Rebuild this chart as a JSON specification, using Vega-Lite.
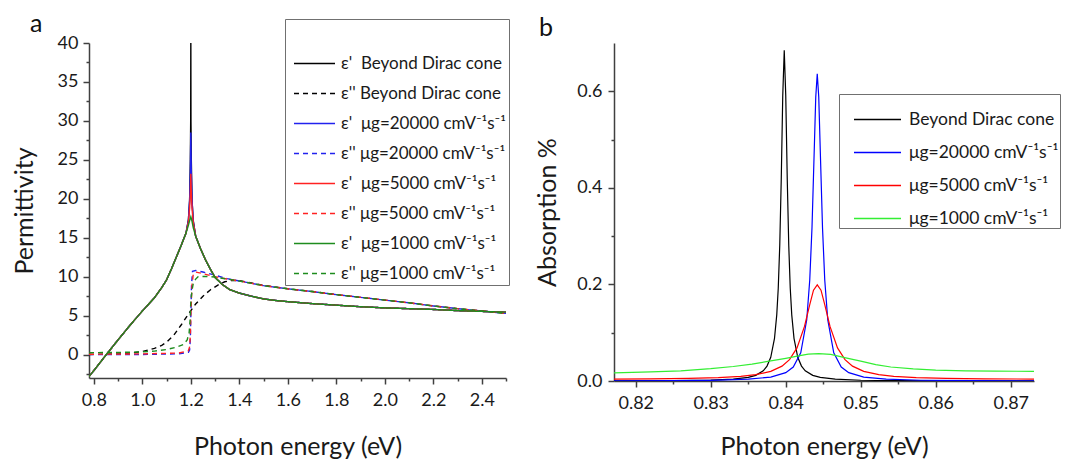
{
  "$schema": "https://vega.github.io/schema/vega-lite/v6.json",
  "background": "white",
  "padding": {"left": 12, "top": 11, "right": 5, "bottom": 5},
  "config": {
    "view": {"stroke": null},
    "font": "Lato",
    "axis": {"domainColor": "#404040", "domainWidth": 1.5, "tickColor": "#404040", "tickWidth": 1.5, "labelFont": "Lato", "labelFontSize": 18, "labelColor": "#1a1a1a", "titleFont": "Lato", "titleFontSize": 25, "titleFontWeight": "normal", "titleColor": "#1a1a1a", "grid": false, "tickSize": 6, "labelPadding": 6},
    "legend": {"labelFont": "Lato", "labelColor": "#1a1a1a", "labelLimit": 400}
  },
  "datasets": {
    "permLabels": [
      {"k": "b1", "curve": "ε'\u00a0\u00a0Beyond Dirac cone"},
      {"k": "b2", "curve": "ε''\u00a0Beyond Dirac cone"},
      {"k": "u1", "curve": "ε'\u00a0\u00a0μg=20000 cmV⁻¹s⁻¹"},
      {"k": "u2", "curve": "ε''\u00a0μg=20000 cmV⁻¹s⁻¹"},
      {"k": "r1", "curve": "ε'\u00a0\u00a0μg=5000 cmV⁻¹s⁻¹"},
      {"k": "r2", "curve": "ε''\u00a0μg=5000 cmV⁻¹s⁻¹"},
      {"k": "g1", "curve": "ε'\u00a0\u00a0μg=1000 cmV⁻¹s⁻¹"},
      {"k": "g2", "curve": "ε''\u00a0μg=1000 cmV⁻¹s⁻¹"}
    ],
    "perm": [
      {"k":"b1","energy":0.78,"value":-2.8},{"k":"b1","energy":0.80,"value":-2.05},{"k":"b1","energy":0.85,"value":-0.05},{"k":"b1","energy":0.90,"value":1.9},{"k":"b1","energy":0.95,"value":3.8},{"k":"b1","energy":1.00,"value":5.6},{"k":"b1","energy":1.05,"value":7.3},{"k":"b1","energy":1.08,"value":8.6},{"k":"b1","energy":1.10,"value":9.6},{"k":"b1","energy":1.12,"value":11.0},{"k":"b1","energy":1.14,"value":12.5},{"k":"b1","energy":1.16,"value":14.0},{"k":"b1","energy":1.18,"value":15.6},{"k":"b1","energy":1.19,"value":17.3},{"k":"b1","energy":1.195,"value":19.8},{"k":"b1","energy":1.198,"value":25},{"k":"b1","energy":1.1995,"value":30},{"k":"b1","energy":1.2,"value":40},{"k":"b1","energy":1.2005,"value":30},{"k":"b1","energy":1.202,"value":25},{"k":"b1","energy":1.205,"value":19.8},{"k":"b1","energy":1.21,"value":17.2},{"k":"b1","energy":1.22,"value":15.2},{"k":"b1","energy":1.24,"value":13.6},{"k":"b1","energy":1.26,"value":12.2},{"k":"b1","energy":1.28,"value":11.0},{"k":"b1","energy":1.30,"value":9.9},{"k":"b1","energy":1.33,"value":9.0},{"k":"b1","energy":1.36,"value":8.35},{"k":"b1","energy":1.40,"value":7.9},{"k":"b1","energy":1.45,"value":7.5},{"k":"b1","energy":1.50,"value":7.15},{"k":"b1","energy":1.55,"value":6.95},{"k":"b1","energy":1.60,"value":6.8},{"k":"b1","energy":1.70,"value":6.55},{"k":"b1","energy":1.80,"value":6.35},{"k":"b1","energy":1.90,"value":6.15},{"k":"b1","energy":2.00,"value":6.0},{"k":"b1","energy":2.10,"value":5.9},{"k":"b1","energy":2.20,"value":5.8},{"k":"b1","energy":2.30,"value":5.65},{"k":"b1","energy":2.40,"value":5.55},{"k":"b1","energy":2.50,"value":5.45},
      {"k":"b2","energy":0.78,"value":0.02},{"k":"b2","energy":0.85,"value":0.05},{"k":"b2","energy":0.90,"value":0.1},{"k":"b2","energy":0.95,"value":0.2},{"k":"b2","energy":1.00,"value":0.4},{"k":"b2","energy":1.05,"value":0.8},{"k":"b2","energy":1.08,"value":1.2},{"k":"b2","energy":1.10,"value":1.6},{"k":"b2","energy":1.13,"value":2.5},{"k":"b2","energy":1.16,"value":3.8},{"k":"b2","energy":1.19,"value":5.2},{"k":"b2","energy":1.22,"value":6.5},{"k":"b2","energy":1.25,"value":7.5},{"k":"b2","energy":1.28,"value":8.3},{"k":"b2","energy":1.31,"value":8.9},{"k":"b2","energy":1.34,"value":9.35},{"k":"b2","energy":1.37,"value":9.55},{"k":"b2","energy":1.40,"value":9.5},{"k":"b2","energy":1.45,"value":9.2},{"k":"b2","energy":1.50,"value":8.9},{"k":"b2","energy":1.60,"value":8.45},{"k":"b2","energy":1.70,"value":8.1},{"k":"b2","energy":1.80,"value":7.7},{"k":"b2","energy":1.90,"value":7.35},{"k":"b2","energy":2.00,"value":7.0},{"k":"b2","energy":2.10,"value":6.65},{"k":"b2","energy":2.20,"value":6.25},{"k":"b2","energy":2.30,"value":5.9},{"k":"b2","energy":2.40,"value":5.6},{"k":"b2","energy":2.50,"value":5.3},
      {"k":"u1","energy":0.78,"value":-2.8},{"k":"u1","energy":0.80,"value":-2.05},{"k":"u1","energy":0.85,"value":-0.05},{"k":"u1","energy":0.90,"value":1.9},{"k":"u1","energy":0.95,"value":3.8},{"k":"u1","energy":1.00,"value":5.6},{"k":"u1","energy":1.05,"value":7.3},{"k":"u1","energy":1.08,"value":8.6},{"k":"u1","energy":1.10,"value":9.6},{"k":"u1","energy":1.12,"value":11.0},{"k":"u1","energy":1.14,"value":12.5},{"k":"u1","energy":1.16,"value":14.0},{"k":"u1","energy":1.18,"value":15.6},{"k":"u1","energy":1.19,"value":17.2},{"k":"u1","energy":1.195,"value":19.8},{"k":"u1","energy":1.198,"value":23.5},{"k":"u1","energy":1.2,"value":28.5},{"k":"u1","energy":1.202,"value":23.5},{"k":"u1","energy":1.205,"value":19.8},{"k":"u1","energy":1.21,"value":17.1},{"k":"u1","energy":1.22,"value":15.2},{"k":"u1","energy":1.24,"value":13.6},{"k":"u1","energy":1.26,"value":12.2},{"k":"u1","energy":1.28,"value":11.0},{"k":"u1","energy":1.30,"value":9.9},{"k":"u1","energy":1.33,"value":9.0},{"k":"u1","energy":1.36,"value":8.35},{"k":"u1","energy":1.40,"value":7.9},{"k":"u1","energy":1.45,"value":7.5},{"k":"u1","energy":1.50,"value":7.15},{"k":"u1","energy":1.55,"value":6.95},{"k":"u1","energy":1.60,"value":6.8},{"k":"u1","energy":1.70,"value":6.55},{"k":"u1","energy":1.80,"value":6.35},{"k":"u1","energy":1.90,"value":6.15},{"k":"u1","energy":2.00,"value":6.0},{"k":"u1","energy":2.10,"value":5.9},{"k":"u1","energy":2.20,"value":5.8},{"k":"u1","energy":2.30,"value":5.65},{"k":"u1","energy":2.40,"value":5.55},{"k":"u1","energy":2.50,"value":5.45},
      {"k":"u2","energy":0.78,"value":0.0},{"k":"u2","energy":1.00,"value":0.02},{"k":"u2","energy":1.15,"value":0.1},{"k":"u2","energy":1.19,"value":0.3},{"k":"u2","energy":1.195,"value":0.6},{"k":"u2","energy":1.198,"value":2.0},{"k":"u2","energy":1.2,"value":5.0},{"k":"u2","energy":1.203,"value":9.0},{"k":"u2","energy":1.207,"value":10.7},{"k":"u2","energy":1.22,"value":10.8},{"k":"u2","energy":1.25,"value":10.6},{"k":"u2","energy":1.30,"value":10.2},{"k":"u2","energy":1.35,"value":9.75},{"k":"u2","energy":1.40,"value":9.45},{"k":"u2","energy":1.45,"value":9.15},{"k":"u2","energy":1.50,"value":8.85},{"k":"u2","energy":1.60,"value":8.45},{"k":"u2","energy":1.70,"value":8.1},{"k":"u2","energy":1.80,"value":7.7},{"k":"u2","energy":1.90,"value":7.35},{"k":"u2","energy":2.00,"value":7.0},{"k":"u2","energy":2.10,"value":6.65},{"k":"u2","energy":2.20,"value":6.25},{"k":"u2","energy":2.30,"value":5.9},{"k":"u2","energy":2.40,"value":5.6},{"k":"u2","energy":2.50,"value":5.3},
      {"k":"r1","energy":0.78,"value":-2.8},{"k":"r1","energy":0.80,"value":-2.05},{"k":"r1","energy":0.85,"value":-0.05},{"k":"r1","energy":0.90,"value":1.9},{"k":"r1","energy":0.95,"value":3.8},{"k":"r1","energy":1.00,"value":5.6},{"k":"r1","energy":1.05,"value":7.3},{"k":"r1","energy":1.08,"value":8.6},{"k":"r1","energy":1.10,"value":9.6},{"k":"r1","energy":1.12,"value":11.0},{"k":"r1","energy":1.14,"value":12.5},{"k":"r1","energy":1.16,"value":14.0},{"k":"r1","energy":1.18,"value":15.6},{"k":"r1","energy":1.19,"value":17.0},{"k":"r1","energy":1.195,"value":18.8},{"k":"r1","energy":1.198,"value":20.8},{"k":"r1","energy":1.2,"value":23.2},{"k":"r1","energy":1.202,"value":20.8},{"k":"r1","energy":1.205,"value":18.8},{"k":"r1","energy":1.21,"value":16.9},{"k":"r1","energy":1.22,"value":15.2},{"k":"r1","energy":1.24,"value":13.6},{"k":"r1","energy":1.26,"value":12.2},{"k":"r1","energy":1.28,"value":11.0},{"k":"r1","energy":1.30,"value":9.9},{"k":"r1","energy":1.33,"value":9.0},{"k":"r1","energy":1.36,"value":8.35},{"k":"r1","energy":1.40,"value":7.9},{"k":"r1","energy":1.45,"value":7.5},{"k":"r1","energy":1.50,"value":7.15},{"k":"r1","energy":1.55,"value":6.95},{"k":"r1","energy":1.60,"value":6.8},{"k":"r1","energy":1.70,"value":6.55},{"k":"r1","energy":1.80,"value":6.35},{"k":"r1","energy":1.90,"value":6.15},{"k":"r1","energy":2.00,"value":6.0},{"k":"r1","energy":2.10,"value":5.9},{"k":"r1","energy":2.20,"value":5.8},{"k":"r1","energy":2.30,"value":5.65},{"k":"r1","energy":2.40,"value":5.55},{"k":"r1","energy":2.50,"value":5.45},
      {"k":"r2","energy":0.78,"value":0.05},{"k":"r2","energy":1.00,"value":0.1},{"k":"r2","energy":1.15,"value":0.2},{"k":"r2","energy":1.19,"value":0.5},{"k":"r2","energy":1.195,"value":1.0},{"k":"r2","energy":1.198,"value":2.5},{"k":"r2","energy":1.2,"value":5.0},{"k":"r2","energy":1.205,"value":9.0},{"k":"r2","energy":1.21,"value":10.3},{"k":"r2","energy":1.22,"value":10.6},{"k":"r2","energy":1.25,"value":10.4},{"k":"r2","energy":1.30,"value":10.0},{"k":"r2","energy":1.35,"value":9.7},{"k":"r2","energy":1.40,"value":9.45},{"k":"r2","energy":1.45,"value":9.15},{"k":"r2","energy":1.50,"value":8.85},{"k":"r2","energy":1.60,"value":8.45},{"k":"r2","energy":1.70,"value":8.1},{"k":"r2","energy":1.80,"value":7.7},{"k":"r2","energy":1.90,"value":7.35},{"k":"r2","energy":2.00,"value":7.0},{"k":"r2","energy":2.10,"value":6.65},{"k":"r2","energy":2.20,"value":6.25},{"k":"r2","energy":2.30,"value":5.9},{"k":"r2","energy":2.40,"value":5.6},{"k":"r2","energy":2.50,"value":5.3},
      {"k":"g1","energy":0.78,"value":-2.8},{"k":"g1","energy":0.80,"value":-2.05},{"k":"g1","energy":0.85,"value":-0.05},{"k":"g1","energy":0.90,"value":1.9},{"k":"g1","energy":0.95,"value":3.8},{"k":"g1","energy":1.00,"value":5.6},{"k":"g1","energy":1.05,"value":7.3},{"k":"g1","energy":1.08,"value":8.6},{"k":"g1","energy":1.10,"value":9.6},{"k":"g1","energy":1.12,"value":11.0},{"k":"g1","energy":1.14,"value":12.5},{"k":"g1","energy":1.16,"value":14.0},{"k":"g1","energy":1.18,"value":15.6},{"k":"g1","energy":1.19,"value":16.6},{"k":"g1","energy":1.195,"value":17.2},{"k":"g1","energy":1.2,"value":17.7},{"k":"g1","energy":1.205,"value":17.1},{"k":"g1","energy":1.21,"value":16.3},{"k":"g1","energy":1.22,"value":15.2},{"k":"g1","energy":1.24,"value":13.6},{"k":"g1","energy":1.26,"value":12.2},{"k":"g1","energy":1.28,"value":11.0},{"k":"g1","energy":1.30,"value":9.9},{"k":"g1","energy":1.33,"value":9.0},{"k":"g1","energy":1.36,"value":8.35},{"k":"g1","energy":1.40,"value":7.9},{"k":"g1","energy":1.45,"value":7.5},{"k":"g1","energy":1.50,"value":7.15},{"k":"g1","energy":1.55,"value":6.95},{"k":"g1","energy":1.60,"value":6.8},{"k":"g1","energy":1.70,"value":6.55},{"k":"g1","energy":1.80,"value":6.35},{"k":"g1","energy":1.90,"value":6.15},{"k":"g1","energy":2.00,"value":6.0},{"k":"g1","energy":2.10,"value":5.9},{"k":"g1","energy":2.20,"value":5.8},{"k":"g1","energy":2.30,"value":5.65},{"k":"g1","energy":2.40,"value":5.55},{"k":"g1","energy":2.50,"value":5.45},
      {"k":"g2","energy":0.78,"value":0.25},{"k":"g2","energy":0.90,"value":0.28},{"k":"g2","energy":1.00,"value":0.35},{"k":"g2","energy":1.05,"value":0.45},{"k":"g2","energy":1.10,"value":0.65},{"k":"g2","energy":1.14,"value":0.95},{"k":"g2","energy":1.17,"value":1.3},{"k":"g2","energy":1.185,"value":1.9},{"k":"g2","energy":1.193,"value":2.8},{"k":"g2","energy":1.197,"value":4.5},{"k":"g2","energy":1.2,"value":6.8},{"k":"g2","energy":1.205,"value":8.3},{"k":"g2","energy":1.21,"value":9.1},{"k":"g2","energy":1.22,"value":9.7},{"k":"g2","energy":1.23,"value":10.0},{"k":"g2","energy":1.26,"value":10.05},{"k":"g2","energy":1.30,"value":9.95},{"k":"g2","energy":1.35,"value":9.7},{"k":"g2","energy":1.40,"value":9.45},{"k":"g2","energy":1.45,"value":9.15},{"k":"g2","energy":1.50,"value":8.85},{"k":"g2","energy":1.60,"value":8.45},{"k":"g2","energy":1.70,"value":8.1},{"k":"g2","energy":1.80,"value":7.7},{"k":"g2","energy":1.90,"value":7.35},{"k":"g2","energy":2.00,"value":7.0},{"k":"g2","energy":2.10,"value":6.65},{"k":"g2","energy":2.20,"value":6.25},{"k":"g2","energy":2.30,"value":5.9},{"k":"g2","energy":2.40,"value":5.6},{"k":"g2","energy":2.50,"value":5.3}
    ],
    "absorb": [
      {"curve":"Beyond Dirac cone","energy":0.8171,"value":0.0003},{"curve":"Beyond Dirac cone","energy":0.825,"value":0.0008},{"curve":"Beyond Dirac cone","energy":0.830,"value":0.0018},{"curve":"Beyond Dirac cone","energy":0.833,"value":0.0037},{"curve":"Beyond Dirac cone","energy":0.835,"value":0.0074},{"curve":"Beyond Dirac cone","energy":0.836,"value":0.0117},{"curve":"Beyond Dirac cone","energy":0.837,"value":0.0212},{"curve":"Beyond Dirac cone","energy":0.8375,"value":0.0309},{"curve":"Beyond Dirac cone","energy":0.838,"value":0.049},{"curve":"Beyond Dirac cone","energy":0.8385,"value":0.0883},{"curve":"Beyond Dirac cone","energy":0.8388,"value":0.137},{"curve":"Beyond Dirac cone","energy":0.839,"value":0.192},{"curve":"Beyond Dirac cone","energy":0.8392,"value":0.281},{"curve":"Beyond Dirac cone","energy":0.8394,"value":0.418},{"curve":"Beyond Dirac cone","energy":0.8396,"value":0.591},{"curve":"Beyond Dirac cone","energy":0.8398,"value":0.685},{"curve":"Beyond Dirac cone","energy":0.84,"value":0.591},{"curve":"Beyond Dirac cone","energy":0.8402,"value":0.418},{"curve":"Beyond Dirac cone","energy":0.8404,"value":0.281},{"curve":"Beyond Dirac cone","energy":0.8406,"value":0.192},{"curve":"Beyond Dirac cone","energy":0.8408,"value":0.137},{"curve":"Beyond Dirac cone","energy":0.8411,"value":0.0883},{"curve":"Beyond Dirac cone","energy":0.8416,"value":0.049},{"curve":"Beyond Dirac cone","energy":0.8421,"value":0.0309},{"curve":"Beyond Dirac cone","energy":0.8426,"value":0.0212},{"curve":"Beyond Dirac cone","energy":0.8436,"value":0.0117},{"curve":"Beyond Dirac cone","energy":0.8446,"value":0.0074},{"curve":"Beyond Dirac cone","energy":0.8466,"value":0.0037},{"curve":"Beyond Dirac cone","energy":0.850,"value":0.0016},{"curve":"Beyond Dirac cone","energy":0.855,"value":0.0007},{"curve":"Beyond Dirac cone","energy":0.860,"value":0.0004},{"curve":"Beyond Dirac cone","energy":0.8731,"value":0.0002},
      {"curve":"μg=20000 cmV⁻¹s⁻¹","energy":0.8171,"value":0.0004},{"curve":"μg=20000 cmV⁻¹s⁻¹","energy":0.825,"value":0.0009},{"curve":"μg=20000 cmV⁻¹s⁻¹","energy":0.830,"value":0.0015},{"curve":"μg=20000 cmV⁻¹s⁻¹","energy":0.835,"value":0.0037},{"curve":"μg=20000 cmV⁻¹s⁻¹","energy":0.838,"value":0.008},{"curve":"μg=20000 cmV⁻¹s⁻¹","energy":0.840,"value":0.0172},{"curve":"μg=20000 cmV⁻¹s⁻¹","energy":0.841,"value":0.029},{"curve":"μg=20000 cmV⁻¹s⁻¹","energy":0.842,"value":0.0585},{"curve":"μg=20000 cmV⁻¹s⁻¹","energy":0.8428,"value":0.127},{"curve":"μg=20000 cmV⁻¹s⁻¹","energy":0.8432,"value":0.209},{"curve":"μg=20000 cmV⁻¹s⁻¹","energy":0.8435,"value":0.318},{"curve":"μg=20000 cmV⁻¹s⁻¹","energy":0.8438,"value":0.479},{"curve":"μg=20000 cmV⁻¹s⁻¹","energy":0.844,"value":0.588},{"curve":"μg=20000 cmV⁻¹s⁻¹","energy":0.8442,"value":0.636},{"curve":"μg=20000 cmV⁻¹s⁻¹","energy":0.8444,"value":0.588},{"curve":"μg=20000 cmV⁻¹s⁻¹","energy":0.8446,"value":0.479},{"curve":"μg=20000 cmV⁻¹s⁻¹","energy":0.8449,"value":0.318},{"curve":"μg=20000 cmV⁻¹s⁻¹","energy":0.8452,"value":0.209},{"curve":"μg=20000 cmV⁻¹s⁻¹","energy":0.8456,"value":0.127},{"curve":"μg=20000 cmV⁻¹s⁻¹","energy":0.8464,"value":0.0585},{"curve":"μg=20000 cmV⁻¹s⁻¹","energy":0.8474,"value":0.029},{"curve":"μg=20000 cmV⁻¹s⁻¹","energy":0.8484,"value":0.0172},{"curve":"μg=20000 cmV⁻¹s⁻¹","energy":0.8504,"value":0.008},{"curve":"μg=20000 cmV⁻¹s⁻¹","energy":0.8534,"value":0.0037},{"curve":"μg=20000 cmV⁻¹s⁻¹","energy":0.858,"value":0.0016},{"curve":"μg=20000 cmV⁻¹s⁻¹","energy":0.865,"value":0.0007},{"curve":"μg=20000 cmV⁻¹s⁻¹","energy":0.8731,"value":0.0004},
      {"curve":"μg=5000 cmV⁻¹s⁻¹","energy":0.8171,"value":0.004},{"curve":"μg=5000 cmV⁻¹s⁻¹","energy":0.822,"value":0.0044},{"curve":"μg=5000 cmV⁻¹s⁻¹","energy":0.827,"value":0.0054},{"curve":"μg=5000 cmV⁻¹s⁻¹","energy":0.831,"value":0.007},{"curve":"μg=5000 cmV⁻¹s⁻¹","energy":0.834,"value":0.0096},{"curve":"μg=5000 cmV⁻¹s⁻¹","energy":0.836,"value":0.0131},{"curve":"μg=5000 cmV⁻¹s⁻¹","energy":0.838,"value":0.020},{"curve":"μg=5000 cmV⁻¹s⁻¹","energy":0.8395,"value":0.0308},{"curve":"μg=5000 cmV⁻¹s⁻¹","energy":0.8405,"value":0.0443},{"curve":"μg=5000 cmV⁻¹s⁻¹","energy":0.8415,"value":0.0685},{"curve":"μg=5000 cmV⁻¹s⁻¹","energy":0.8425,"value":0.113},{"curve":"μg=5000 cmV⁻¹s⁻¹","energy":0.8432,"value":0.158},{"curve":"μg=5000 cmV⁻¹s⁻¹","energy":0.8437,"value":0.188},{"curve":"μg=5000 cmV⁻¹s⁻¹","energy":0.8442,"value":0.199},{"curve":"μg=5000 cmV⁻¹s⁻¹","energy":0.8447,"value":0.188},{"curve":"μg=5000 cmV⁻¹s⁻¹","energy":0.8452,"value":0.158},{"curve":"μg=5000 cmV⁻¹s⁻¹","energy":0.8459,"value":0.113},{"curve":"μg=5000 cmV⁻¹s⁻¹","energy":0.8469,"value":0.0685},{"curve":"μg=5000 cmV⁻¹s⁻¹","energy":0.8479,"value":0.0443},{"curve":"μg=5000 cmV⁻¹s⁻¹","energy":0.8489,"value":0.0308},{"curve":"μg=5000 cmV⁻¹s⁻¹","energy":0.8504,"value":0.020},{"curve":"μg=5000 cmV⁻¹s⁻¹","energy":0.8524,"value":0.0131},{"curve":"μg=5000 cmV⁻¹s⁻¹","energy":0.8544,"value":0.0096},{"curve":"μg=5000 cmV⁻¹s⁻¹","energy":0.8574,"value":0.007},{"curve":"μg=5000 cmV⁻¹s⁻¹","energy":0.8614,"value":0.0054},{"curve":"μg=5000 cmV⁻¹s⁻¹","energy":0.8664,"value":0.0044},{"curve":"μg=5000 cmV⁻¹s⁻¹","energy":0.8731,"value":0.004},
      {"curve":"μg=1000 cmV⁻¹s⁻¹","energy":0.8171,"value":0.017},{"curve":"μg=1000 cmV⁻¹s⁻¹","energy":0.822,"value":0.019},{"curve":"μg=1000 cmV⁻¹s⁻¹","energy":0.826,"value":0.021},{"curve":"μg=1000 cmV⁻¹s⁻¹","energy":0.830,"value":0.0255},{"curve":"μg=1000 cmV⁻¹s⁻¹","energy":0.833,"value":0.030},{"curve":"μg=1000 cmV⁻¹s⁻¹","energy":0.8355,"value":0.035},{"curve":"μg=1000 cmV⁻¹s⁻¹","energy":0.838,"value":0.0415},{"curve":"μg=1000 cmV⁻¹s⁻¹","energy":0.840,"value":0.047},{"curve":"μg=1000 cmV⁻¹s⁻¹","energy":0.8417,"value":0.052},{"curve":"μg=1000 cmV⁻¹s⁻¹","energy":0.843,"value":0.0555},{"curve":"μg=1000 cmV⁻¹s⁻¹","energy":0.8444,"value":0.0565},{"curve":"μg=1000 cmV⁻¹s⁻¹","energy":0.846,"value":0.055},{"curve":"μg=1000 cmV⁻¹s⁻¹","energy":0.848,"value":0.048},{"curve":"μg=1000 cmV⁻¹s⁻¹","energy":0.850,"value":0.041},{"curve":"μg=1000 cmV⁻¹s⁻¹","energy":0.852,"value":0.034},{"curve":"μg=1000 cmV⁻¹s⁻¹","energy":0.854,"value":0.029},{"curve":"μg=1000 cmV⁻¹s⁻¹","energy":0.857,"value":0.025},{"curve":"μg=1000 cmV⁻¹s⁻¹","energy":0.860,"value":0.0225},{"curve":"μg=1000 cmV⁻¹s⁻¹","energy":0.864,"value":0.021},{"curve":"μg=1000 cmV⁻¹s⁻¹","energy":0.868,"value":0.0205},{"curve":"μg=1000 cmV⁻¹s⁻¹","energy":0.8731,"value":0.020}
    ]
  },
  "spacing": 108,
  "bounds": "flush",
  "resolve": {"scale": {"color": "independent", "strokeDash": "independent"}, "legend": {"color": "independent", "strokeDash": "independent"}},
  "hconcat": [
    {
      "width": 417,
      "height": 335,
      "title": {"text": "a", "anchor": "start", "frame": "group", "fontSize": 25, "fontWeight": "normal", "font": "Lato", "color": "#111111", "dx": -59, "offset": -38, "baseline": "alphabetic"},
      "data": {"name": "perm"},
      "transform": [{"lookup": "k", "from": {"data": {"name": "permLabels"}, "key": "k", "fields": ["curve"]}}],
      "layer": [
        {
          "mark": {"type": "line", "strokeWidth": 1.4, "clip": true},
          "encoding": {
            "x": {"field": "energy", "type": "quantitative", "scale": {"domain": [0.78, 2.5], "nice": false, "zero": false},
                  "axis": {"values": [0.8, 1.0, 1.2, 1.4, 1.6, 1.8, 2.0, 2.2, 2.4], "format": ".1f", "title": "Photon energy (eV)", "labelPadding": 7, "titlePadding": 25}},
            "y": {"field": "value", "type": "quantitative", "scale": {"domain": [-3, 40], "nice": false, "zero": false},
                  "axis": {"values": [0, 5, 10, 15, 20, 25, 30, 35, 40], "format": "d", "title": "Permittivity", "labelPadding": 5, "titlePadding": 20}},
            "color": {"field": "curve", "type": "nominal",
                      "scale": {"domain": ["ε'\u00a0\u00a0Beyond Dirac cone", "ε''\u00a0Beyond Dirac cone", "ε'\u00a0\u00a0μg=20000 cmV⁻¹s⁻¹", "ε''\u00a0μg=20000 cmV⁻¹s⁻¹", "ε'\u00a0\u00a0μg=5000 cmV⁻¹s⁻¹", "ε''\u00a0μg=5000 cmV⁻¹s⁻¹", "ε'\u00a0\u00a0μg=1000 cmV⁻¹s⁻¹", "ε''\u00a0μg=1000 cmV⁻¹s⁻¹"],
                                "range": ["#000000", "#000000", "#2222ee", "#2222ee", "#ff2222", "#ff2222", "#1e8c1e", "#1e8c1e"]},
                      "legend": {"title": "\u00a0", "titleFontSize": 12, "titlePadding": 8, "orient": "none", "legendX": 196, "legendY": -24, "strokeColor": "#707070", "fillColor": "white", "padding": 3, "symbolType": "stroke", "symbolSize": 1681, "symbolStrokeWidth": 1.5, "labelFontSize": 17, "rowPadding": -1.3, "labelOffset": 5, "symbolOffset": 5}},
            "strokeDash": {"field": "curve", "type": "nominal",
                      "scale": {"domain": ["ε'\u00a0\u00a0Beyond Dirac cone", "ε''\u00a0Beyond Dirac cone", "ε'\u00a0\u00a0μg=20000 cmV⁻¹s⁻¹", "ε''\u00a0μg=20000 cmV⁻¹s⁻¹", "ε'\u00a0\u00a0μg=5000 cmV⁻¹s⁻¹", "ε''\u00a0μg=5000 cmV⁻¹s⁻¹", "ε'\u00a0\u00a0μg=1000 cmV⁻¹s⁻¹", "ε''\u00a0μg=1000 cmV⁻¹s⁻¹"],
                                "range": [[1, 0], [5, 4], [1, 0], [5, 4], [1, 0], [5, 4], [1, 0], [5, 4]]},
                      "legend": {"title": "\u00a0", "titleFontSize": 12, "titlePadding": 8, "orient": "none", "legendX": 196, "legendY": -24, "strokeColor": "#707070", "fillColor": "white", "padding": 3, "symbolType": "stroke", "symbolSize": 1681, "symbolStrokeWidth": 1.5, "labelFontSize": 17, "rowPadding": -1.3, "labelOffset": 5, "symbolOffset": 5}}
          }
        },
        {
          "mark": {"type": "point", "opacity": 0},
          "encoding": {
            "x": {"field": "energy", "type": "quantitative", "axis": {"values": [0.9, 1.1, 1.3, 1.5, 1.7, 1.9, 2.1, 2.3, 2.5], "labels": false, "domain": false, "title": null, "tickSize": 3, "orient": "bottom"}},
            "y": {"field": "value", "type": "quantitative", "axis": {"values": [-2.5, 2.5, 7.5, 12.5, 17.5, 22.5, 27.5, 32.5, 37.5], "labels": false, "domain": false, "title": null, "tickSize": 3, "orient": "left"}}
          }
        }
      ],
      "resolve": {"axis": {"x": "independent", "y": "independent"}}
    },
    {
      "width": 420,
      "height": 338,
      "title": {"text": "b", "anchor": "start", "frame": "group", "fontSize": 25, "fontWeight": "normal", "font": "Lato", "color": "#111111", "dx": -75, "offset": -18, "baseline": "alphabetic"},
      "data": {"name": "absorb"},
      "layer": [
        {
          "mark": {"type": "line", "strokeWidth": 1.2, "clip": true},
          "encoding": {
            "x": {"field": "energy", "type": "quantitative", "scale": {"domain": [0.8171, 0.8731], "nice": false, "zero": false},
                  "axis": {"values": [0.82, 0.83, 0.84, 0.85, 0.86, 0.87], "format": ".2f", "title": "Photon energy (eV)", "labelPadding": 7, "titlePadding": 22}},
            "y": {"field": "value", "type": "quantitative", "scale": {"domain": [0, 0.7], "nice": false},
                  "axis": {"values": [0, 0.2, 0.4, 0.6], "format": ".1f", "title": "Absorption %", "labelPadding": 6, "titlePadding": 16}},
            "color": {"field": "curve", "type": "nominal",
                      "scale": {"domain": ["Beyond Dirac cone", "μg=20000 cmV⁻¹s⁻¹", "μg=5000 cmV⁻¹s⁻¹", "μg=1000 cmV⁻¹s⁻¹"], "range": ["#000000", "#0000ff", "#ff0000", "#33ee33"]},
                      "legend": {"title": null, "orient": "none", "legendX": 225, "legendY": 51, "strokeColor": "#707070", "fillColor": "white", "padding": 1, "symbolType": "stroke", "symbolSize": 2209, "symbolStrokeWidth": 1.5, "labelFontSize": 17.5, "rowPadding": -5.5, "labelOffset": 7, "symbolOffset": 13}}
          }
        },
        {
          "mark": {"type": "point", "opacity": 0},
          "encoding": {
            "x": {"field": "energy", "type": "quantitative", "axis": {"values": [0.825, 0.835, 0.845, 0.855, 0.865], "labels": false, "domain": false, "title": null, "tickSize": 3, "orient": "bottom"}},
            "y": {"field": "value", "type": "quantitative", "axis": {"values": [0.1, 0.3, 0.5], "labels": false, "domain": false, "title": null, "tickSize": 3, "orient": "left"}}
          }
        }
      ],
      "resolve": {"axis": {"x": "independent", "y": "independent"}}
    }
  ]
}
